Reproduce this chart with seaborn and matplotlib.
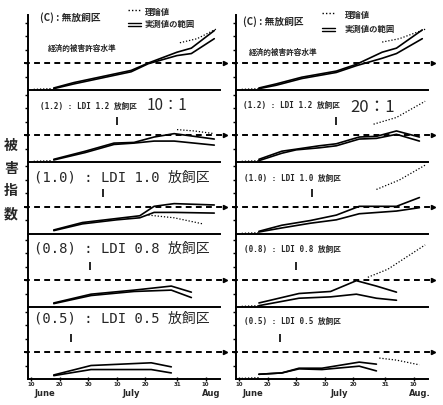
import matplotlib
matplotlib.use("Agg")
import matplotlib.pyplot as plt
import matplotlib.transforms as mtransforms
from matplotlib.lines import Line2D
import seaborn as sns

# days counted from 1 June (40 = July 10, 71 = Aug 10)
tick_days = [10, 20, 30, 40, 50, 61, 71]
tick_labels = ["10", "20", "30", "10", "20", "31", "10"]
month_days = [15, 45, 73]
left_months = ["June", "July", "Aug"]
right_months = ["June", "July", "Aug."]

EIL = 2.0  # economic injury level (dashed line)

theory_start_days = [11, 17]
theory_start = [0.05, 0.1]

# ---- left column (release ratio 10:1) ----
c_l_days = [18, 25, 35, 45, 51, 61, 66, 74]
c_l_up = [0.15, 0.55, 1.0, 1.45, 2.0, 2.8, 3.1, 4.4]
c_l_lo = [0.1, 0.45, 0.9, 1.35, 1.95, 2.55, 2.7, 3.8]
c_l_th_days = [62, 68, 75]
c_l_th = [3.5, 3.8, 4.55]

l12_days = [18, 29, 39, 46, 53, 60, 74]
l12_up = [0.2, 0.8, 1.4, 1.45, 1.85, 2.1, 1.7]
l12_lo = [0.15, 0.7, 1.3, 1.4, 1.55, 1.55, 1.25]
l12_th_days = [61, 67, 74]
l12_th = [2.4, 2.3, 2.1]

l10_days = [18, 28, 40, 48, 53, 60, 74]
l10_up = [0.3, 0.85, 1.15, 1.35, 2.05, 2.25, 2.15]
l10_lo = [0.25, 0.75, 1.05, 1.2, 1.6, 1.6, 1.55]
l10_th_days = [51, 60, 70]
l10_th = [1.4, 1.2, 0.75]

l08_days = [18, 31, 46, 59, 66]
l08_up = [0.3, 0.95, 1.25, 1.55, 1.1]
l08_lo = [0.25, 0.85, 1.15, 1.25, 0.7]

l05_days = [18, 31, 52, 59]
l05_up = [0.3, 1.0, 1.2, 0.9]
l05_lo = [0.25, 0.7, 0.7, 0.45]

# ---- right column (release ratio 20:1) ----
c_r_days = [17, 23, 32, 44, 51, 60, 65, 74]
c_r_up = [0.15, 0.45, 0.95, 1.4, 1.9, 2.8, 3.1, 4.45]
c_r_lo = [0.1, 0.35, 0.85, 1.3, 1.8, 2.35, 2.7, 3.8]
c_r_th_days = [60, 66, 75]
c_r_th = [3.55, 3.8, 4.5]

r12_days = [17, 25, 30, 38, 44, 52, 58, 65, 73]
r12_up = [0.2, 0.8, 0.95, 1.2, 1.35, 1.85, 1.9, 2.3, 1.85]
r12_lo = [0.1, 0.65, 0.9, 1.05, 1.2, 1.7, 1.75, 2.05, 1.55]
r12_th_days = [57, 65, 75]
r12_th = [2.8, 3.3, 4.5]

r10_days = [17, 25, 35, 44, 52, 65, 73]
r10_up = [0.2, 0.65, 1.0, 1.4, 2.05, 2.05, 2.7]
r10_lo = [0.15, 0.45, 0.8, 1.05, 1.5, 1.7, 1.95]
r10_th_days = [58, 66, 75]
r10_th = [3.3, 4.0, 5.1]

r08_days = [17, 31, 42, 51, 58, 65]
r08_up = [0.3, 1.0, 1.15, 1.95, 1.55, 1.1]
r08_lo = [0.1, 0.65, 0.75, 0.95, 0.65, 0.5]
r08_th_days = [55, 62, 75]
r08_th = [2.2, 2.8, 4.6]

r05_days = [17, 25, 31, 39, 52, 58]
r05_up = [0.35, 0.45, 0.8, 0.8, 1.25, 1.1]
r05_lo = [0.35, 0.45, 0.75, 0.7, 0.95, 0.6]
r05_th_days = [59, 65, 73]
r05_th = [1.55, 1.4, 1.05]

ldi_titles = ["(1.2) : LDI 1.2 放飼区", "(1.0) : LDI 1.0 放飼区",
              "(0.8) : LDI 0.8 放飼区", "(0.5) : LDI 0.5 放飼区"]
left_release = [40, 35, 30.5, 24]
right_release = [44, 35.5, 30, 24.5]

left_panels = [
    (c_l_days, c_l_up, c_l_lo, c_l_th_days, c_l_th, True),
    (l12_days, l12_up, l12_lo, l12_th_days, l12_th, True),
    (l10_days, l10_up, l10_lo, l10_th_days, l10_th, False),
    (l08_days, l08_up, l08_lo, [], [], False),
    (l05_days, l05_up, l05_lo, [], [], False),
]
right_panels = [
    (c_r_days, c_r_up, c_r_lo, c_r_th_days, c_r_th, True),
    (r12_days, r12_up, r12_lo, r12_th_days, r12_th, True),
    (r10_days, r10_up, r10_lo, r10_th_days, r10_th, True),
    (r08_days, r08_up, r08_lo, r08_th_days, r08_th, True),
    (r05_days, r05_up, r05_lo, r05_th_days, r05_th, True),
]

sns.set_theme(style="white")
plt.rcParams["font.family"] = ["DejaVu Sans", "Noto Sans CJK JP"]
CJK = ["Noto Sans CJK JP", "DejaVu Sans"]
MONO = ["DejaVu Sans Mono", "Noto Sans CJK JP"]

W, H = 443, 405
fig = plt.figure(figsize=(W / 100, H / 100), dpi=100)


def px(x, y):
    return x / W, 1 - y / H


row_bottoms = [90, 162, 234, 307, 379]
row_tops = [15, 90, 162, 234, 307]
col_x = [(28, 220), (236, 428)]
PX_PER_UNIT = 13.5


def draw_panel(ax, data, ymax, release=None, bottom=False, months=None):
    days, up, lo, th_days, th, show_start = data
    sns.lineplot(x=days, y=up, ax=ax, color="black", lw=1.2)
    sns.lineplot(x=days, y=lo, ax=ax, color="black", lw=1.2)
    if th_days:
        sns.lineplot(x=th_days, y=th, ax=ax, color="black", lw=0.9, linestyle=(0, (1, 1.5)))
    if show_start:
        sns.lineplot(x=theory_start_days, y=theory_start, ax=ax, color="black",
                     lw=0.9, linestyle=(0, (1, 1.5)))
    ax.axhline(EIL, xmin=-0.02, xmax=1.02, color="black", lw=1.4,
               ls=(0, (3, 2.2)), clip_on=False)
    trans = mtransforms.blended_transform_factory(ax.transAxes, ax.transData)
    ax.plot([1.025], [EIL], marker=">", ms=3, color="black", transform=trans, clip_on=False)
    if release is not None:
        ax.vlines(release, 2.75, 3.3, color="black", lw=1.2)
    ax.set_xlim(9, 76)
    ax.set_ylim(0, ymax)
    for s in ["top", "right"]:
        ax.spines[s].set_visible(False)
    for s in ["left", "bottom"]:
        ax.spines[s].set_color("black")
        ax.spines[s].set_linewidth(1.4)
    ax.set_yticks([1, 2, 3, 4, 5])
    ax.set_yticklabels([])
    ax.tick_params(axis="y", direction="out", length=2.5, width=1, color="black", left=True)
    ax.set_xticks(tick_days)
    if bottom:
        ax.set_xticklabels(tick_labels, fontsize=4, fontweight="bold")
        ax.tick_params(axis="x", direction="inout", length=3, width=1, color="black",
                       bottom=True, pad=1)
        tb = mtransforms.blended_transform_factory(ax.transData, ax.transAxes)
        for d, m in zip(month_days, months):
            ax.text(d, -0.2, m, transform=tb, ha="center", va="center",
                    fontsize=6, fontweight="bold")
    else:
        ax.set_xticklabels([])
        ax.tick_params(axis="x", length=0)
    ax.set_xlabel("")
    ax.set_ylabel("")


for ci, (panels, releases, months) in enumerate(
        [(left_panels, left_release, left_months), (right_panels, right_release, right_months)]):
    x0, x1 = col_x[ci]
    for ri in range(5):
        b, t = row_bottoms[ri], row_tops[ri]
        ax = fig.add_axes([x0 / W, 1 - b / H, (x1 - x0) / W, (b - t) / H])
        ax.patch.set_alpha(0)
        draw_panel(ax, panels[ri], (b - t) / PX_PER_UNIT,
                   release=None if ri == 0 else releases[ri - 1],
                   bottom=(ri == 4), months=months)

# headers of the top panels
fig.text(*px(40, 18), "(C) : 無放飼区", family=CJK, fontsize=7, fontweight="bold", va="center")
fig.text(*px(243, 22), "(C) : 無放飼区", family=CJK, fontsize=7, fontweight="bold", va="center")
fig.text(*px(48, 48), "経済的被害許容水準", family=CJK, fontsize=5.5, fontweight="bold", va="center")
fig.text(*px(249, 52), "経済的被害許容水準", family=CJK, fontsize=5.5, fontweight="bold", va="center")

# legends
for lx, ly1, ly2, tx in [(128, 12, 24, 145), (322, 15, 29, 345)]:
    fig.add_artist(Line2D([lx / W, (lx + 13) / W], [1 - (ly1 - 2) / H] * 2,
                          color="black", lw=1, ls=(0, (1, 1.5))))
    fig.add_artist(Line2D([lx / W, (lx + 13) / W], [1 - (ly2 - 1.5) / H] * 2, color="black", lw=1))
    fig.add_artist(Line2D([lx / W, (lx + 13) / W], [1 - (ly2 + 1.5) / H] * 2, color="black", lw=1))
    fig.text(*px(tx, ly1), "理論値", family=CJK, fontsize=6, fontweight="bold", va="center")
    fig.text(*px(tx, ly2), "実測値の範囲", family=CJK, fontsize=6, fontweight="bold", va="center")

# panel titles
fig.text(*px(40, 106), ldi_titles[0], family=MONO, fontsize=5.5, fontweight="bold", va="center")
fig.text(*px(147, 106), "10：1", family=CJK, fontsize=11, va="center")
fig.text(*px(243, 105), ldi_titles[0], family=MONO, fontsize=5.5, fontweight="bold", va="center")
fig.text(*px(350, 107), "20：1", family=CJK, fontsize=12, va="center")
for ti, y in zip(ldi_titles[1:], [177, 248, 319]):
    fig.text(*px(34, y), ti, family=MONO, fontsize=10, va="center")
for ti, y in zip(ldi_titles[1:], [178, 249, 321]):
    fig.text(*px(244, y), ti, family=MONO, fontsize=5.5, fontweight="bold", va="center")

# y label
fig.text(*px(11, 180), "被\n害\n指\n数", family=CJK, fontsize=10, fontweight="bold",
         ha="center", va="center", linespacing=1.8)

fig.savefig("out.png", dpi=100)
